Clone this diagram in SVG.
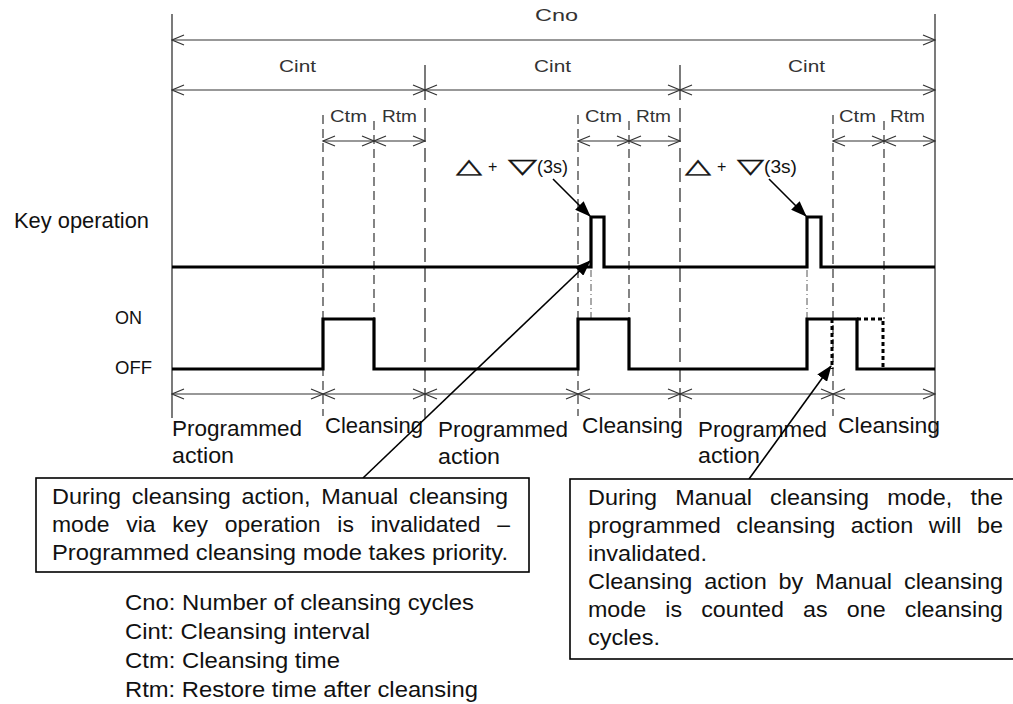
<svg xmlns="http://www.w3.org/2000/svg" width="1013" height="704" viewBox="0 0 1013 704">
<style>
.t{font-family:"Liberation Sans",Arial,sans-serif;fill:#111}
.lbl{font-size:17px;fill:#333}
.big{font-size:22px}
.dim{stroke:#333;stroke-width:1.2;fill:none;marker-start:url(#oa);marker-end:url(#oa)}
.vl{stroke:#333;stroke-width:1.3;fill:none}
.sd{stroke:#333;stroke-width:1.2;stroke-dasharray:9 5;fill:none}
.ld{stroke:#333;stroke-width:1.3;stroke-dasharray:14 6;fill:none}
.dd{stroke:#555;stroke-width:1;stroke-dasharray:7 3 1 3;fill:none}
.sig{stroke:#000;stroke-width:3.2;fill:none;stroke-linejoin:miter}
.dot{stroke:#000;stroke-width:3;stroke-dasharray:4 3;fill:none}
.ann{stroke:#000;stroke-width:1.6;fill:none;marker-end:url(#fa)}
.box{fill:#fff;stroke:#000;stroke-width:1.6}
.sym{font-family:"DejaVu Sans",sans-serif;font-size:20px;fill:#111;stroke:#111;stroke-width:0.35}
</style>
<defs>
<marker id="oa" viewBox="0 0 14 12" refX="13" refY="6" markerWidth="14" markerHeight="12" markerUnits="userSpaceOnUse" orient="auto-start-reverse"><path d="M1,1 L13,6 L1,11" fill="none" stroke="#333" stroke-width="1.2"/></marker>
<marker id="fa" viewBox="0 0 16 12" refX="15" refY="6" markerWidth="16" markerHeight="12" markerUnits="userSpaceOnUse" orient="auto"><path d="M0,0 L16,6 L0,12 z" fill="#000"/></marker>
</defs>
<rect width="1013" height="704" fill="#fff"/>

<g id="frame">
<line class="vl" x1="172" y1="14" x2="172" y2="418"/>
<line class="vl" x1="935" y1="14" x2="935" y2="437"/>
<line class="vl" x1="425" y1="65" x2="425" y2="100"/>
<line class="vl" x1="680" y1="65" x2="680" y2="100"/>
<line class="ld" x1="425" y1="108" x2="425" y2="418"/>
<line class="ld" x1="680" y1="108" x2="680" y2="418"/>
<line class="sd" x1="323" y1="115" x2="323" y2="416"/>
<line class="sd" x1="578" y1="115" x2="578" y2="416"/>
<line class="sd" x1="833" y1="115" x2="833" y2="416"/>
<line class="sd" x1="374" y1="121" x2="374" y2="319"/>
<line class="sd" x1="629" y1="121" x2="629" y2="319"/>
<line class="sd" x1="884" y1="121" x2="884" y2="319"/>
<line class="dd" x1="591" y1="270" x2="591" y2="319"/>
<line class="dd" x1="807" y1="270" x2="807" y2="319"/>
</g>

<g id="dimensions">
<line class="dim" x1="172" y1="40" x2="935" y2="40"/>
<line class="dim" x1="172" y1="90" x2="425" y2="90"/>
<line class="dim" x1="425" y1="90" x2="680" y2="90"/>
<line class="dim" x1="680" y1="90" x2="935" y2="90"/>
<line class="dim" x1="323" y1="141" x2="374" y2="141"/>
<line class="dim" x1="374" y1="141" x2="425" y2="141"/>
<line class="dim" x1="578" y1="141" x2="629" y2="141"/>
<line class="dim" x1="629" y1="141" x2="680" y2="141"/>
<line class="dim" x1="833" y1="141" x2="884" y2="141"/>
<line class="dim" x1="884" y1="141" x2="935" y2="141"/>
<line class="dim" x1="172" y1="394" x2="323" y2="394"/>
<line class="dim" x1="323" y1="394" x2="425" y2="394"/>
<line class="dim" x1="425" y1="394" x2="578" y2="394"/>
<line class="dim" x1="578" y1="394" x2="680" y2="394"/>
<line class="dim" x1="680" y1="394" x2="833" y2="394"/>
<line class="dim" x1="833" y1="394" x2="935" y2="394"/>
</g>

<g id="dim-labels">
<text class="t lbl" x="535" y="21" textLength="43" lengthAdjust="spacingAndGlyphs">Cno</text>
<text class="t lbl" x="279" y="72" textLength="37" lengthAdjust="spacingAndGlyphs">Cint</text>
<text class="t lbl" x="534" y="72" textLength="37" lengthAdjust="spacingAndGlyphs">Cint</text>
<text class="t lbl" x="788" y="72" textLength="37" lengthAdjust="spacingAndGlyphs">Cint</text>
<text class="t lbl" x="330" y="122" textLength="37" lengthAdjust="spacingAndGlyphs">Ctm</text>
<text class="t lbl" x="382" y="122" textLength="35" lengthAdjust="spacingAndGlyphs">Rtm</text>
<text class="t lbl" x="585" y="122" textLength="37" lengthAdjust="spacingAndGlyphs">Ctm</text>
<text class="t lbl" x="636" y="122" textLength="35" lengthAdjust="spacingAndGlyphs">Rtm</text>
<text class="t lbl" x="839" y="122" textLength="37" lengthAdjust="spacingAndGlyphs">Ctm</text>
<text class="t lbl" x="890" y="122" textLength="35" lengthAdjust="spacingAndGlyphs">Rtm</text>
</g>

<g id="key-operation">
<text class="t big" x="14" y="228" textLength="135" lengthAdjust="spacingAndGlyphs">Key operation</text>
<polyline class="sig" points="172,267 591,267 591,217 604,217 604,267 807,267 807,217 821,217 821,267 935,267"/>
<text class="sym" x="456" y="173" textLength="26" lengthAdjust="spacingAndGlyphs">△</text>
<text class="t" x="488" y="172" font-size="16">+</text>
<text class="sym" x="508" y="173" textLength="29" lengthAdjust="spacingAndGlyphs">▽</text>
<text class="t" x="537" y="173" font-size="18" textLength="31" lengthAdjust="spacingAndGlyphs">(3s)</text>
<text class="sym" x="685" y="173" textLength="26" lengthAdjust="spacingAndGlyphs">△</text>
<text class="t" x="717" y="172" font-size="16">+</text>
<text class="sym" x="737" y="173" textLength="27" lengthAdjust="spacingAndGlyphs">▽</text>
<text class="t" x="764" y="173" font-size="18" textLength="33" lengthAdjust="spacingAndGlyphs">(3s)</text>
</g>

<g id="output-signal">
<text class="t" x="115" y="324" font-size="19" fill="#333" textLength="27" lengthAdjust="spacingAndGlyphs">ON</text>
<text class="t" x="115" y="374" font-size="19" fill="#333" textLength="37" lengthAdjust="spacingAndGlyphs">OFF</text>
<polyline class="sig" points="172,369 323,369 323,319 374,319 374,369 578,369 578,319 629,319 629,369 807,369 807,319 857,319 857,369 935,369"/>
<polyline class="dot" points="857,319 883,319 883,369"/>
<line class="dot" x1="832" y1="319" x2="832" y2="369"/>
</g>

<g id="phase-labels">
<text class="t big" x="172" y="436" textLength="130" lengthAdjust="spacingAndGlyphs">Programmed</text>
<text class="t big" x="172" y="463" textLength="62" lengthAdjust="spacingAndGlyphs">action</text>
<text class="t big" x="325" y="433" textLength="98" lengthAdjust="spacingAndGlyphs">Cleansing</text>
<text class="t big" x="438" y="437" textLength="130" lengthAdjust="spacingAndGlyphs">Programmed</text>
<text class="t big" x="438" y="464" textLength="62" lengthAdjust="spacingAndGlyphs">action</text>
<text class="t big" x="582" y="433" textLength="101" lengthAdjust="spacingAndGlyphs">Cleansing</text>
<text class="t big" x="698" y="437" textLength="129" lengthAdjust="spacingAndGlyphs">Programmed</text>
<text class="t big" x="698" y="463" textLength="62" lengthAdjust="spacingAndGlyphs">action</text>
<text class="t big" x="838" y="433" textLength="102" lengthAdjust="spacingAndGlyphs">Cleansing</text>
</g>

<g id="connectors">
<line class="ann" x1="553" y1="179" x2="590" y2="216"/>
<line class="ann" x1="769" y1="179" x2="806" y2="216"/>
<line class="ann" x1="363" y1="478" x2="590" y2="261"/>
<line class="ann" x1="749" y1="479" x2="831" y2="366"/>
</g>

<g id="note-left">
<rect class="box" x="36" y="478" width="493" height="94"/>
<text class="t big" x="52" y="504" word-spacing="4" textLength="456" lengthAdjust="spacingAndGlyphs">During cleansing action, Manual cleansing</text>
<text class="t big" x="52" y="532" word-spacing="10" textLength="458" lengthAdjust="spacingAndGlyphs">mode via key operation is invalidated –</text>
<text class="t big" x="52" y="560" textLength="456" lengthAdjust="spacingAndGlyphs">Programmed cleansing mode takes priority.</text>
</g>

<g id="note-right">
<rect class="box" x="570" y="479" width="460" height="180"/>
<text class="t big" x="588" y="505" word-spacing="11" textLength="415" lengthAdjust="spacingAndGlyphs">During Manual cleansing mode, the</text>
<text class="t big" x="588" y="533" word-spacing="8.5" textLength="415" lengthAdjust="spacingAndGlyphs">programmed cleansing action will be</text>
<text class="t big" x="588" y="561" textLength="119" lengthAdjust="spacingAndGlyphs">invalidated.</text>
<text class="t big" x="588" y="589" word-spacing="5" textLength="415" lengthAdjust="spacingAndGlyphs">Cleansing action by Manual cleansing</text>
<text class="t big" x="588" y="617" word-spacing="12" textLength="415" lengthAdjust="spacingAndGlyphs">mode is counted as one cleansing</text>
<text class="t big" x="588" y="645" textLength="72" lengthAdjust="spacingAndGlyphs">cycles.</text>
</g>

<g id="legend">
<text class="t big" x="125" y="610" textLength="349" lengthAdjust="spacingAndGlyphs">Cno: Number of cleansing cycles</text>
<text class="t big" x="125" y="639" textLength="245" lengthAdjust="spacingAndGlyphs">Cint: Cleansing interval</text>
<text class="t big" x="125" y="668" textLength="215" lengthAdjust="spacingAndGlyphs">Ctm: Cleansing time</text>
<text class="t big" x="125" y="697" textLength="353" lengthAdjust="spacingAndGlyphs">Rtm: Restore time after cleansing</text>
</g>
</svg>
